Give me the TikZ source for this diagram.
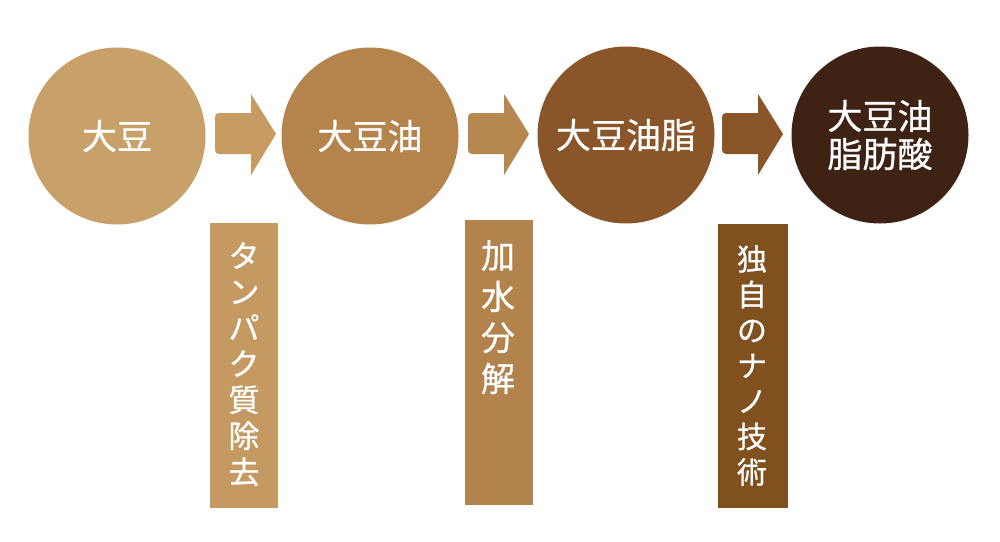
\documentclass[tikz,border=0pt]{standalone}
\usepackage{fontspec}
\newfontfamily\cjk{Noto Sans CJK JP}[FakeBold=0.7]
\definecolor{cA}{HTML}{C8A069}
\definecolor{cB}{HTML}{B5844C}
\definecolor{cC}{HTML}{8A5528}
\definecolor{cD}{HTML}{3E2214}
\definecolor{aA}{HTML}{C79C63}
\definecolor{aB}{HTML}{B6884F}
\definecolor{aC}{HTML}{8A5527}
\definecolor{rA}{HTML}{C49A62}
\definecolor{rB}{HTML}{B3834E}
\definecolor{rC}{HTML}{80501F}
\begin{document}
\begin{tikzpicture}[x=1pt,y=-1pt,
  stage/.style={circle,minimum size=177pt,inner sep=0pt,text=white,align=center,
    font={\cjk\fontsize{35}{38}\selectfont}},
  band/.style={rectangle,inner sep=0pt},
  vtext/.style={anchor=north,inner sep=0pt,text=white,align=center}]
\useasboundingbox (0,0) rectangle (1000,541);
\fill[white] (0,0) rectangle (1000,541);
% circles
\node[stage,fill=cA] (s1) at (117,136) {大豆};
\node[stage,fill=cB] (s2) at (370,136) {大豆油};
\node[stage,fill=cC] (s3) at (626,135) {大豆油脂};
\node[stage,fill=cD] (s4) at (880,135) {大豆油\\脂肪酸};
% arrows
\foreach \x/\c in {215/aA,468/aB,722/aC}{
  \fill[\c] (\x,113) [rounded corners=4pt] -- (\x,154) [sharp corners] -- (\x+36,154) -- (\x+36,175)
    -- (\x+61,134) -- (\x+36,94) -- (\x+36,113) [rounded corners=4pt] -- cycle;
}
% bands
\node[band,fill=rA,minimum width=68pt,minimum height=285pt] (b1) at (244,365.5) {};
\node[band,fill=rB,minimum width=68pt,minimum height=285pt] (b2) at (499,362.5) {};
\node[band,fill=rC,minimum width=70pt,minimum height=284pt] (b3) at (753,366) {};
\node[vtext,font={\cjk\fontsize{31}{36}\selectfont}] (t1) at (244,242) {タ\\ン\\パ\\ク\\質\\除\\去};
\node[vtext,font={\cjk\fontsize{34}{41}\selectfont}] (t2) at (498,240) {加\\水\\分\\解};
\node[vtext,font={\cjk\fontsize{30}{35.5}\selectfont}] (t3) at (752,245) {独\\自\\の\\ナ\\ノ\\技\\術};
\end{tikzpicture}
\end{document}
